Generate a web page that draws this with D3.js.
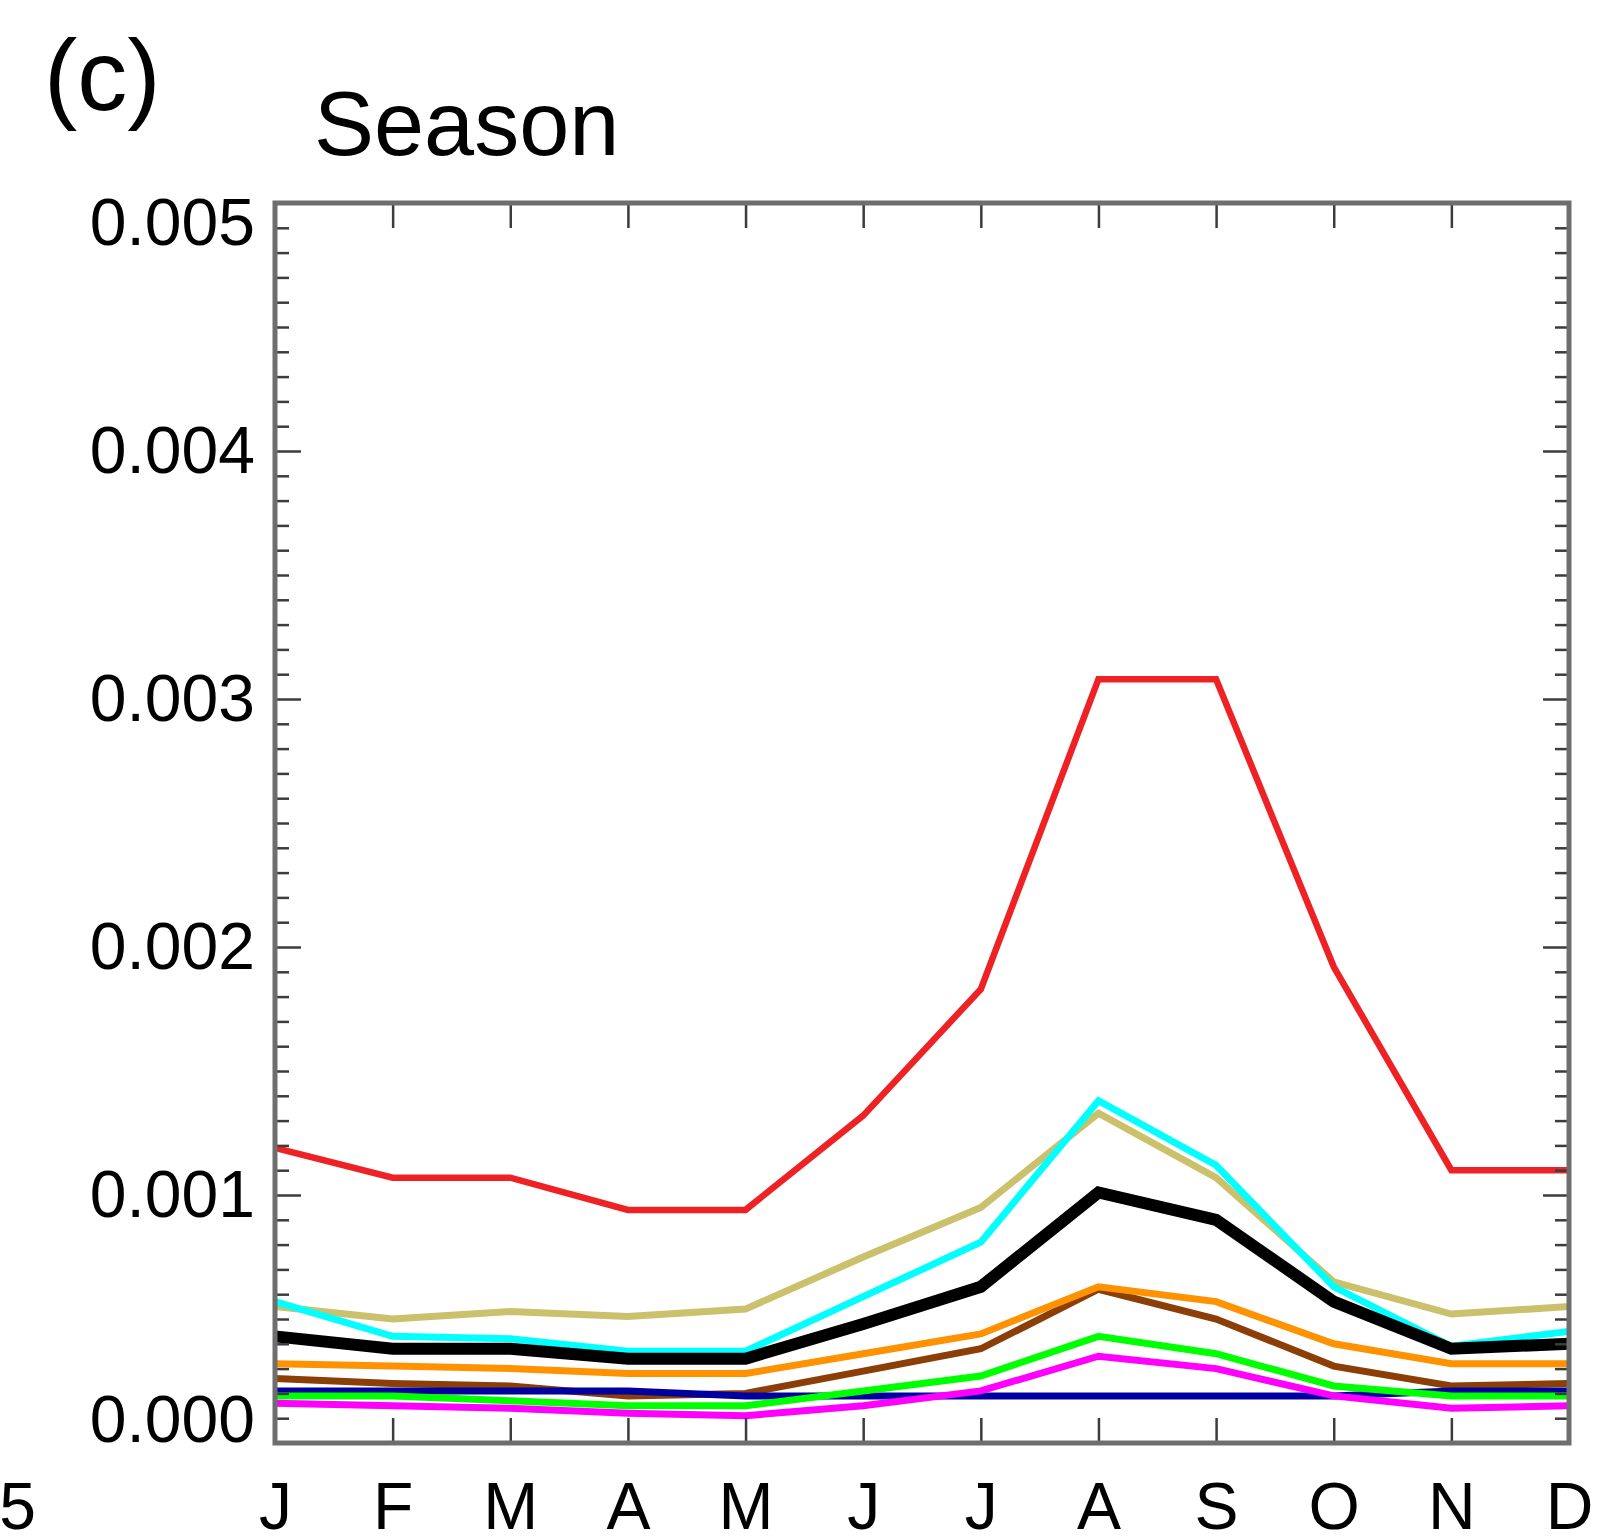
<!DOCTYPE html>
<html>
<head>
<meta charset="utf-8">
<script src="https://cdn.jsdelivr.net/npm/d3@7"></script>
<style>
  html, body { margin: 0; padding: 0; background: #fff; }
  svg { display: block; font-family: "Liberation Sans", Arial, Helvetica, sans-serif; }
</style>
</head>
<body>
<svg id="chart" width="1604" height="1539"></svg>
<script>
// Month labels along the x axis
const months = ["J", "F", "M", "A", "M", "J", "J", "A", "S", "O", "N", "D"];

// Y axis tick labels
const yTickValues = [0, 0.001, 0.002, 0.003, 0.004, 0.005];
const yTickLabels = ["0.000", "0.001", "0.002", "0.003", "0.004", "0.005"];

// Monthly climatology for each series
const seriesRed     = [0.00119, 0.00107, 0.00107, 0.00094, 0.00094, 0.00132, 0.00183, 0.00308, 0.00308, 0.00192, 0.00110, 0.00110];
const seriesKhaki   = [0.00055, 0.00050, 0.00053, 0.00051, 0.00054, 0.00075, 0.00095, 0.00133, 0.00107, 0.00065, 0.00052, 0.00055];
const seriesCyan    = [0.00057, 0.00043, 0.00042, 0.00037, 0.00037, 0.00059, 0.00081, 0.00138, 0.00112, 0.00063, 0.00039, 0.00045];
const seriesBlack   = [0.00043, 0.00038, 0.00038, 0.00034, 0.00034, 0.00048, 0.00063, 0.00101, 0.00090, 0.00057, 0.00038, 0.00040];
const seriesOrange  = [0.00032, 0.00031, 0.00030, 0.00028, 0.00028, 0.00036, 0.00044, 0.00063, 0.00057, 0.00040, 0.00032, 0.00032];
const seriesBrown   = [0.00026, 0.00024, 0.00023, 0.00019, 0.00020, 0.00029, 0.00038, 0.00062, 0.00050, 0.00031, 0.00023, 0.00024];
const seriesNavy    = [0.00021, 0.00021, 0.00021, 0.00021, 0.00019, 0.00019, 0.00019, 0.00019, 0.00019, 0.00019, 0.00021, 0.00021];
const seriesGreen   = [0.00019, 0.00019, 0.00017, 0.00015, 0.00015, 0.00021, 0.00027, 0.00043, 0.00036, 0.00023, 0.00019, 0.00019];
const seriesMagenta = [0.00016, 0.00015, 0.00014, 0.00012, 0.00011, 0.00015, 0.00021, 0.00035, 0.00030, 0.00019, 0.00014, 0.00015];

// Drawing order (later entries on top)
const seriesList = [
  { values: seriesBrown,   color: "#8b3e06", width: 7 },
  { values: seriesNavy,    color: "#0000a0", width: 7 },
  { values: seriesGreen,   color: "#00ff00", width: 7 },
  { values: seriesMagenta, color: "#ff00ff", width: 7 },
  { values: seriesOrange,  color: "#ff9200", width: 7 },
  { values: seriesKhaki,   color: "#cbc06c", width: 7 },
  { values: seriesCyan,    color: "#00ffff", width: 7 },
  { values: seriesBlack,   color: "#000000", width: 12 },
  { values: seriesRed,     color: "#ee2224", width: 6.5 }
];

const svg = d3.select("#chart");
const frame = { left: 275, right: 1569, top: 203, bottom: 1443 };

const x = d3.scaleLinear().domain([0, months.length - 1]).range([frame.left, frame.right]);
const y = d3.scaleLinear().domain([0, 0.005]).range([frame.bottom, frame.top]);

// Panel letter and title
svg.append("text").attr("x", 44).attr("y", 110)
  .attr("font-size", 100).attr("fill", "#000").text("(c)");
svg.append("text").attr("x", 314).attr("y", 155)
  .attr("font-size", 90).attr("fill", "#000").text("Season");

// Fragment of a neighbouring label at the left edge
svg.append("text").attr("x", 36).attr("y", 1529)
  .attr("text-anchor", "end").attr("font-size", 66).attr("fill", "#000").text("5");

// Series lines
const line = d3.line().x((d, i) => x(i)).y(d => y(d));
const lines = svg.append("g").attr("class", "series");
seriesList.forEach(s => {
  lines.append("path")
    .datum(s.values)
    .attr("d", line)
    .attr("fill", "none")
    .attr("stroke", s.color)
    .attr("stroke-width", s.width)
    .attr("stroke-linejoin", "miter")
    .attr("stroke-miterlimit", 4);
});

const tickColor = "#3c3c3c";
const axisColor = "#6e6e6e";

function styleAxis(g) {
  g.select(".domain").remove();
  g.selectAll(".tick line").attr("stroke", tickColor).attr("stroke-width", 2.5);
  g.selectAll(".tick text").attr("fill", "#000").attr("font-size", 66)
    .attr("font-family", "'Liberation Sans', Arial, Helvetica, sans-serif");
}

// Minor y ticks (every 0.0001) on both vertical axes
const minorVals = d3.range(0, 51).map(i => i * 0.0001).filter((v, i) => i % 10 !== 0);
svg.append("g").attr("transform", `translate(${frame.left},0)`)
  .call(d3.axisLeft(y).tickValues(minorVals).tickSize(-14).tickFormat(""))
  .call(styleAxis);
svg.append("g").attr("transform", `translate(${frame.right},0)`)
  .call(d3.axisRight(y).tickValues(minorVals).tickSize(-14).tickFormat(""))
  .call(styleAxis);

// Major y ticks with labels
const yAxisG = svg.append("g").attr("transform", `translate(${frame.left},0)`)
  .call(d3.axisLeft(y).tickValues(yTickValues).tickSize(-26).tickPadding(20)
    .tickFormat((d, i) => yTickLabels[i]))
  .call(styleAxis);
// End labels sit inside the axis range
yAxisG.selectAll(".tick text")
  .attr("y", d => d === 0.005 ? 20 : (d === 0 ? -23 : 0));
svg.append("g").attr("transform", `translate(${frame.right},0)`)
  .call(d3.axisRight(y).tickValues(yTickValues).tickSize(-26).tickFormat(""))
  .call(styleAxis);

// Month ticks on bottom (with labels) and top
svg.append("g").attr("transform", `translate(0,${frame.bottom})`)
  .call(d3.axisBottom(x).tickValues(d3.range(months.length)).tickSize(-25).tickPadding(39)
    .tickFormat(i => months[i]))
  .call(styleAxis);
svg.append("g").attr("transform", `translate(0,${frame.top})`)
  .call(d3.axisTop(x).tickValues(d3.range(months.length)).tickSize(-25).tickFormat(""))
  .call(styleAxis);

// Plot frame
svg.append("rect")
  .attr("x", frame.left).attr("y", frame.top)
  .attr("width", frame.right - frame.left).attr("height", frame.bottom - frame.top)
  .attr("fill", "none").attr("stroke", axisColor).attr("stroke-width", 5);
</script>
</body>
</html>
